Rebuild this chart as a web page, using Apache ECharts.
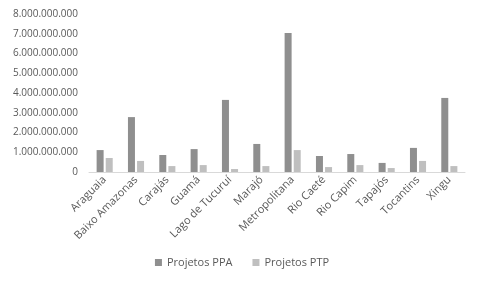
<!DOCTYPE html>
<html>
<head>
<meta charset="utf-8">
<script src="https://cdn.jsdelivr.net/npm/echarts@6/dist/echarts.min.js"></script>
<style>
  html, body { margin: 0; padding: 0; background: #fff; }
  #chart { width: 484px; height: 288px; }
</style>
</head>
<body>
<div id="chart"></div>
<script>
// regiões de integração
const categories = ['Araguaia', 'Baixo Amazonas', 'Carajás', 'Guamá', 'Lago de Tucuruí', 'Marajó',
  'Metropolitana', 'Rio Caeté', 'Rio Capim', 'Tapajós', 'Tocantins', 'Xingu'];
const projetosPPA = [1110000000, 2780000000, 860000000, 1160000000, 3650000000, 1420000000,
  7040000000, 810000000, 910000000, 460000000, 1220000000, 3750000000];
const projetosPTP = [710000000, 560000000, 300000000, 350000000, 150000000, 300000000,
  1110000000, 250000000, 350000000, 200000000, 560000000, 300000000];

const fmt = v => String(v).replace(/\B(?=(\d{3})+(?!\d))/g, '.');

const myChart = echarts.init(document.getElementById('chart'));
myChart.setOption({
  animation: false,
  textStyle: { fontFamily: 'Open Sans', color: '#595959' },
  grid: { left: 89, right: 19, top: 14, bottom: 116 },
  legend: {
    bottom: 15,
    left: 'center',
    itemWidth: 7,
    itemHeight: 7,
    itemGap: 20,
    icon: 'rect',
    textStyle: { fontSize: 11, color: '#595959', fontFamily: 'Open Sans' },
    data: ['Projetos PPA', 'Projetos PTP']
  },
  xAxis: {
    type: 'category',
    data: categories,
    axisLine: { lineStyle: { color: '#d9d9d9' } },
    axisTick: { show: false },
    axisLabel: { rotate: 45, fontSize: 11, color: '#595959', interval: 0, margin: 6 }
  },
  yAxis: {
    type: 'value',
    min: 0,
    max: 8000000000,
    interval: 1000000000,
    splitLine: { show: false },
    axisLine: { show: false },
    axisTick: { show: false },
    axisLabel: { fontSize: 10, color: '#595959', margin: 11, formatter: fmt }
  },
  series: [
    {
      name: 'Projetos PPA',
      type: 'bar',
      data: projetosPPA,
      barWidth: 7,
      barGap: '30%',
      itemStyle: { color: '#8f8f8f' }
    },
    {
      name: 'Projetos PTP',
      type: 'bar',
      data: projetosPTP,
      barWidth: 7,
      itemStyle: { color: '#bfbfbf' }
    }
  ]
});
</script>
</body>
</html>
